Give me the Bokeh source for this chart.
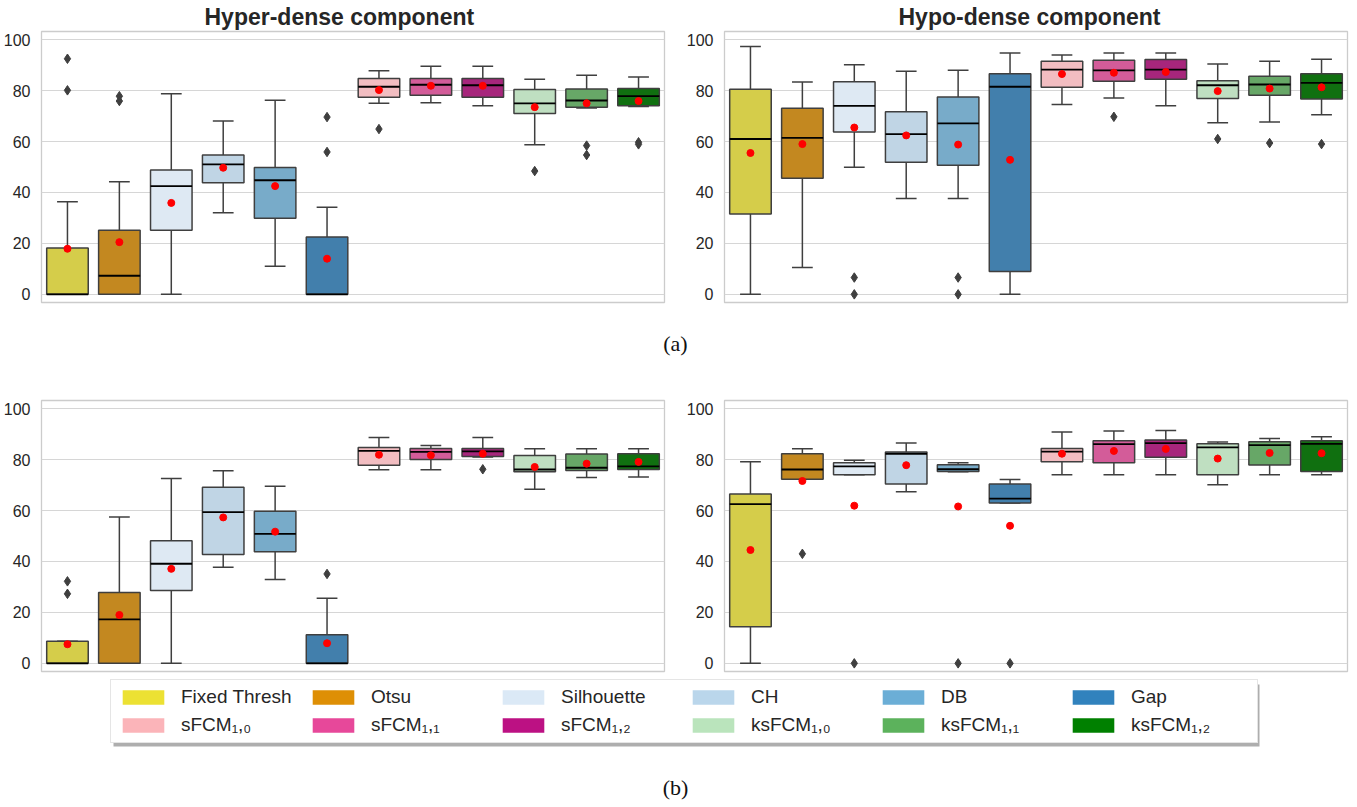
import colorsys
import numpy as np
from bokeh.plotting import figure
from bokeh.models import Range1d, Legend, LegendItem, Div, ColumnDataSource, BoxAnnotation
from bokeh.layouts import row, column
from bokeh.embed import file_html
from bokeh.resources import INLINE

categories = ["Fixed Thresh", "Otsu", "Silhouette", "CH", "DB", "Gap",
              "sFCM\u2081,\u2080", "sFCM\u2081,\u2081", "sFCM\u2081,\u2082",
              "ksFCM\u2081,\u2080", "ksFCM\u2081,\u2081", "ksFCM\u2081,\u2082"]
legend_colors = ["#ece133", "#de8f05", "#dbe9f6", "#bad6eb", "#6baed6", "#3182bd",
                 "#fbb4b9", "#e7489a", "#bc1183", "#bae4bc", "#5cb25c", "#008000"]

# (a) Hyper-dense component
a_hyper_low = [0, 0, 0, 32, 11, 0, 75, 75.2, 74, 58.7, 73.2, 73.8]
a_hyper_q1 = [0, 0, 25.2, 43.8, 29.9, 0, 77.4, 78.2, 77.4, 71, 73.5, 74]
a_hyper_med = [0, 7.3, 42.5, 51, 44.8, 0, 81.5, 82.3, 82.1, 75, 76.1, 77.8]
a_hyper_q3 = [18.2, 25.2, 48.8, 54.7, 49.8, 22.5, 84.7, 84.7, 84.7, 80.4, 80.6, 80.8]
a_hyper_high = [36.4, 44.2, 78.8, 68.1, 76.2, 34.2, 87.8, 89.6, 89.6, 84.5, 86, 85.3]
a_hyper_mean = [17.9, 20.5, 35.9, 49.7, 42.5, 14, 80.2, 81.9, 81.9, 73.5, 75, 75.9]
a_hyper_out = [[92.5, 80.1], [77.8, 75.9], [], [], [], [69.6, 55.9], [64.9], [], [], [48.4], [58.4, 54.7], [59.7, 58.9]]

# (a) Hypo-dense component
a_hypo_low = [0, 10.5, 49.9, 37.6, 37.6, 0, 74.5, 77.1, 74, 67.4, 67.7, 70.5]
a_hypo_q1 = [31.5, 45.6, 63.7, 51.9, 50.7, 9, 81.3, 83.7, 84.5, 76.9, 78.2, 76.7]
a_hypo_med = [61, 61.4, 74, 62.9, 67.1, 81.5, 88.2, 87.9, 88.2, 82.1, 82.4, 83]
a_hypo_q3 = [80.5, 73.1, 83.5, 71.7, 77.5, 86.6, 91.5, 91.9, 92.2, 83.9, 85.6, 86.6]
a_hypo_high = [97.3, 83.4, 90.1, 87.6, 88, 94.8, 94, 94.8, 94.8, 90.4, 91.5, 92.3]
a_hypo_mean = [55.5, 59, 65.5, 62.4, 58.8, 52.8, 86.5, 87, 87.3, 79.8, 80.8, 81.3]
a_hypo_out = [[], [], [6.6, 0], [], [6.6, 0], [], [], [69.7], [], [61], [59.4], [59]]

# (b) Hyper-dense component
b_hyper_low = [0, 0, 0, 37.7, 32.9, 0, 76, 76, 81, 68.4, 73, 73.2]
b_hyper_q1 = [0, 0, 28.6, 42.7, 43.8, 0, 77.8, 80, 81.2, 75.2, 75.7, 76.1]
b_hyper_med = [0, 17.3, 39.1, 59.4, 50.8, 0, 83.4, 83, 83.2, 76.1, 76.8, 77.3]
b_hyper_q3 = [8.7, 27.8, 48.1, 69.1, 59.7, 11.2, 84.7, 84.4, 84.4, 81.6, 82.2, 82.3]
b_hyper_high = [8.7, 57.5, 72.6, 75.6, 69.5, 25.6, 88.7, 85.5, 88.7, 84.3, 84.3, 84.3]
b_hyper_mean = [7.5, 19, 37.1, 57.3, 51.7, 7.9, 81.9, 81.7, 82.3, 77.1, 78.4, 79.1]
b_hyper_out = [[32.2, 27.3], [], [], [], [], [35.1], [], [], [76.2], [], [], []]

# (b) Hypo-dense component
b_hypo_low = [0, 72.3, 74, 67.4, 75.2, 63, 74, 74, 74, 70.1, 74, 74]
b_hypo_q1 = [14.4, 72.3, 74, 70.4, 75.3, 63, 79.2, 78.8, 80.9, 74, 77.9, 75.3]
b_hypo_med = [62.5, 76.1, 77.3, 82.3, 76.2, 64.7, 83.1, 86.1, 86.5, 84.8, 85.7, 86.2]
b_hypo_q3 = [66.5, 82.3, 78.8, 83, 78, 70.4, 84.4, 87.4, 87.7, 86.2, 87, 87.4]
b_hypo_high = [79.2, 84.3, 79.7, 86.5, 78.8, 72.2, 90.8, 91.2, 91.4, 86.9, 88.3, 89]
b_hypo_mean = [44.5, 71.6, 61.9, 77.8, 61.6, 54, 82.3, 83.4, 84.2, 80.4, 82.6, 82.5]
b_hypo_out = [[], [43], [0], [], [0], [0], [], [], [], [], [], []]

y_ticks = [0, 20, 40, 60, 80, 100]

TEXT = "#262626"
LINE = "#3f3f3f"
FONT = "Liberation Sans"


def desaturate(hexcol, prop=0.75):
    r, g, b = [int(hexcol[i:i + 2], 16) / 255 for i in (1, 3, 5)]
    h, l, s = colorsys.rgb_to_hls(r, g, b)
    r, g, b = colorsys.hls_to_rgb(h, l, s * prop)
    return "#%02x%02x%02x" % (round(r * 255), round(g * 255), round(b * 255))


box_colors = [desaturate(c) for c in legend_colors]


def make_panel(low, q1, med, q3, high, mean, outl, title, title_offset, left, right, top, bottom):
    p = figure(frame_width=623, frame_height=271,
               x_range=Range1d(-0.5, 11.5), y_range=Range1d(-3.2, 103.2),
               x_axis_location=None, output_backend="svg", toolbar_location=None,
               min_border_left=left, min_border_right=right,
               min_border_top=top, min_border_bottom=bottom,
               background_fill_color="white", border_fill_color="white")
    if title:
        p.title.text = title
        p.title.align = "left"
        p.title.offset = title_offset
        p.title.text_font = FONT
        p.title.text_font_style = "bold"
        p.title.text_font_size = "23px"
        p.title.text_color = TEXT
        p.title.standoff = 3
    p.outline_line_color = "#cccccc"
    p.outline_line_width = 1.3
    p.xgrid.visible = False
    p.ygrid.grid_line_color = "#d6d6d6"
    p.ygrid.grid_line_width = 1.2
    p.ygrid.ticker = y_ticks
    ax = p.yaxis[0]
    ax.ticker = y_ticks
    ax.axis_line_color = None
    ax.major_tick_line_color = None
    ax.minor_tick_line_color = None
    ax.major_label_text_font = FONT
    ax.major_label_text_font_size = "16px"
    ax.major_label_text_color = TEXT
    ax.major_label_standoff = 5

    x = np.arange(len(categories), dtype=float)
    src = ColumnDataSource(dict(
        x=x, xl=x - 0.2, xr=x + 0.2, bl=x - 0.4, br=x + 0.4,
        low=low, q1=q1, med=med, q3=q3, high=high, mean=mean, color=box_colors))
    p.segment(x0="x", y0="q3", x1="x", y1="high", source=src, line_color=LINE, line_width=1.5)
    p.segment(x0="x", y0="low", x1="x", y1="q1", source=src, line_color=LINE, line_width=1.5)
    p.segment(x0="xl", y0="high", x1="xr", y1="high", source=src, line_color=LINE, line_width=1.5)
    p.segment(x0="xl", y0="low", x1="xr", y1="low", source=src, line_color=LINE, line_width=1.5)
    p.vbar(x="x", width=0.8, bottom="q1", top="q3", source=src,
           fill_color="color", line_color=LINE, line_width=1.5)
    p.segment(x0="bl", y0="med", x1="br", y1="med", source=src, line_color="black", line_width=1.8)
    ox = [i for i, vals in enumerate(outl) for _ in vals]
    oy = [v for vals in outl for v in vals]
    p.scatter(ox, oy, marker="diamond", size=9.5, fill_color=LINE, line_color=LINE)
    p.scatter(x="x", y="mean", source=src, size=7, fill_color="red", line_color="red")
    return p


p1 = make_panel(a_hyper_low, a_hyper_q1, a_hyper_med, a_hyper_q3, a_hyper_high, a_hyper_mean,
                a_hyper_out, "Hyper-dense component", 163, 32, 5, 24, 17)
p2 = make_panel(a_hypo_low, a_hypo_q1, a_hypo_med, a_hypo_q3, a_hypo_high, a_hypo_mean,
                a_hypo_out, "Hypo-dense component", 174, 55, 3, 24, 17)
p3 = make_panel(b_hyper_low, b_hyper_q1, b_hyper_med, b_hyper_q3, b_hyper_high, b_hyper_mean,
                b_hyper_out, None, 0, 32, 5, 21, 4)
p4 = make_panel(b_hypo_low, b_hypo_q1, b_hypo_med, b_hypo_q3, b_hypo_high, b_hypo_mean,
                b_hypo_out, None, 0, 55, 3, 21, 4)

# legend strip
pl = figure(width=1341, height=80, x_range=Range1d(0, 1), y_range=Range1d(0, 1),
            x_axis_location=None, y_axis_location=None, output_backend="svg",
            toolbar_location=None, min_border=0, outline_line_color=None)
pl.xgrid.visible = False
pl.ygrid.visible = False
renderers = []
for col in legend_colors:
    r = pl.vbar(x=[np.nan], top=[np.nan], width=0.1, fill_color=col, line_color=None)
    renderers.append(r)
# legend fills column by column: interleave so rows read left to right
order = [r * 6 + c for c in range(6) for r in range(2)]
items = [LegendItem(label=categories[i], renderers=[renderers[i]]) for i in order]

LEG_X, LEG_Y, LEG_W, LEG_H = 110, 12, 1146, 62
shadow = BoxAnnotation(left=LEG_X + 3, right=LEG_X + LEG_W + 3,
                       bottom=LEG_Y - 3, top=LEG_Y + LEG_H - 3,
                       left_units="screen", right_units="screen",
                       top_units="screen", bottom_units="screen",
                       fill_color="#9a9a9a", fill_alpha=0.8, line_color=None,
                       level="underlay")
pl.add_layout(shadow)
leg = Legend(items=items, ncols=6, location=(LEG_X, LEG_Y),
             glyph_width=52, glyph_height=18, label_standoff=12, label_width=120,
             label_text_font=FONT, label_text_font_size="19px", label_text_color=TEXT,
             spacing=6, padding=6, margin=0,
             border_line_color="#cccccc", border_line_width=1.2,
             background_fill_color="white", background_fill_alpha=1)
pl.add_layout(leg, "center")

cap_style = {"font-family": "Liberation Serif", "font-size": "22px", "text-align": "center",
             "color": "#111111", "width": "1341px"}
div_a = Div(text="(a)", width=1341, height=50,
            styles=dict(cap_style, **{"padding-top": "4px"}))
div_b = Div(text="(b)", width=1341, height=48,
            styles=dict(cap_style, **{"padding-top": "12px"}))

layout = column(row(p1, p2), div_a, row(p3, p4), pl, div_b)

with open("out.html", "w") as f:
    f.write(file_html(layout, INLINE))
